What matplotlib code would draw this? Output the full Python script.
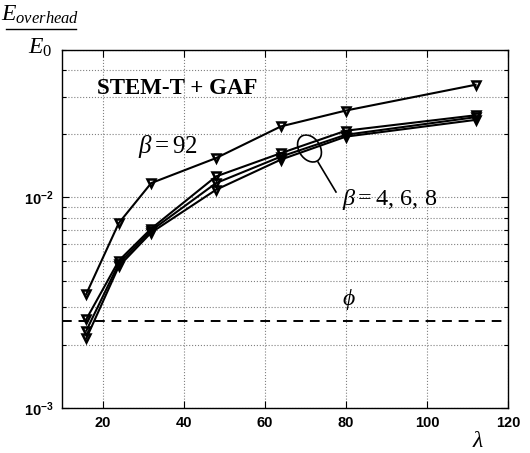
import matplotlib
matplotlib.use("Agg")
import matplotlib.pyplot as plt
from matplotlib.patches import Ellipse
from matplotlib.lines import Line2D
from matplotlib.ticker import FixedLocator, LogLocator, NullFormatter

plt.rcParams['mathtext.fontset'] = 'custom'
plt.rcParams['mathtext.rm'] = 'Liberation Serif'
plt.rcParams['mathtext.it'] = 'Liberation Serif:italic'
plt.rcParams['mathtext.bf'] = 'Liberation Sans:bold'

# data
lam = [16, 24, 32, 48, 64, 80, 112]
beta92 = [3.48e-3, 7.54e-3, 1.168e-2, 1.535e-2, 2.17e-2, 2.58e-2, 3.42e-2]
beta4 = [2.64e-3, 5.0e-3, 7.1e-3, 1.256e-2, 1.62e-2, 2.07e-2, 2.45e-2]
beta6 = [2.33e-3, 4.85e-3, 6.95e-3, 1.168e-2, 1.56e-2, 1.98e-2, 2.40e-2]
beta8 = [2.14e-3, 4.7e-3, 6.8e-3, 1.086e-2, 1.51e-2, 1.94e-2, 2.33e-2]
phi = 2.6e-3
xticks = [20, 40, 60, 80, 100, 120]
yticks = [1e-3, 1e-2]
ytick_labels = [r'$\mathbf{10^{-3}}$', r'$\mathbf{10^{-2}}$']

fig = plt.figure(figsize=(5.30, 4.53), dpi=100)
ax = fig.add_axes([62/530, 45/453, 446/530, 358/453])

for ys in (beta92, beta4, beta6, beta8):
    ax.plot(lam, ys, color='black', lw=1.5, marker='v', ms=6,
            mfc='none', mec='black', mew=1.8)
ax.axhline(phi, color='black', lw=1.4, ls=(0, (5, 3.5)))

ax.set_yscale('log')
ax.set_xlim(10, 120)
ax.set_ylim(1e-3, 5e-2)
ax.xaxis.set_major_locator(FixedLocator(xticks))
ax.set_xticklabels([str(v) for v in xticks], fontfamily='Liberation Sans',
                   fontweight='bold', fontsize=10.5)
ax.yaxis.set_major_locator(FixedLocator(yticks))
ax.set_yticklabels(ytick_labels, fontsize=10.5)
ax.yaxis.set_minor_locator(LogLocator(base=10, subs=range(2, 10)))
ax.yaxis.set_minor_formatter(NullFormatter())
ax.tick_params(which='both', direction='in', top=True, right=True, width=0.8)
ax.tick_params(which='major', length=5, pad=6)
ax.tick_params(which='minor', length=3)
ax.grid(True, which='major', axis='both', ls=':', color='#808080', lw=0.8)
ax.grid(True, which='minor', axis='y', ls=':', color='#808080', lw=0.8)
for s in ax.spines.values():
    s.set_linewidth(1.0)

# annotations
ax.text((97-62)/446, (408-88)/358, 'STEM-T + GAF', transform=ax.transAxes,
        fontfamily='Liberation Serif', fontweight='bold', fontsize=16.5,
        va='center', ha='left')
ax.text((138-62)/446, (408-146)/358, r'$\beta = 92$', transform=ax.transAxes,
        fontsize=18, va='center', ha='left')
ax.text((342-62)/446, (408-200)/358, r'$\beta = 4,\,6,\,8$', transform=ax.transAxes,
        fontsize=17.5, va='center', ha='left')
ax.text((349-62)/446, (408-300)/358, r'$\phi$', transform=ax.transAxes,
        fontsize=17, va='center', ha='center')
ax.add_patch(Ellipse(((309.5-62)/446, (408-148.5)/358), 22/446, 28/358,
                     angle=20, transform=ax.transAxes, fill=False,
                     ec='black', lw=1.2))
ax.add_line(Line2D([(318-62)/446, (336-62)/446], [(408-162)/358, (408-192)/358],
                   transform=ax.transAxes, color='black', lw=1.2))

# y label as fraction
fig.text(40/530, 1-14/453, r'$E_{overhead}$', fontsize=17, ha='center', va='center')
fig.text(40/530, 1-47/453, r'$E_0$', fontsize=17, ha='center', va='center')
fig.add_artist(Line2D([6/530, 76/530], [1-29/453, 1-29/453],
                      transform=fig.transFigure, color='black', lw=1.0))
fig.text(478/530, 1-440/453, r'$\lambda$', fontsize=17, ha='center', va='center')

fig.savefig('out.png', dpi=100)
